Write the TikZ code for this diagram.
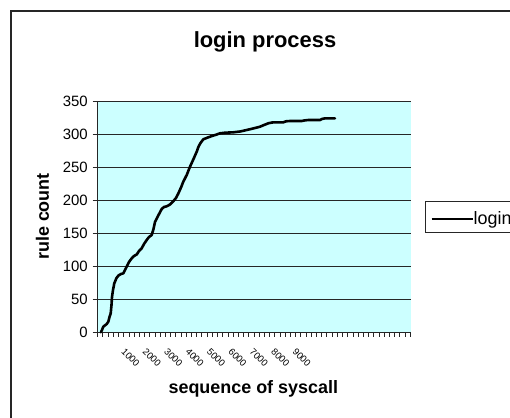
\documentclass[tikz,border=0pt]{standalone}
\usepackage{fontspec}
\setmainfont{Liberation Sans}
\definecolor{plotbg}{HTML}{CCFFFF}
\definecolor{gridc}{HTML}{262626}
\tikzset{
  titletext/.style={font=\fontsize{22}{26}\selectfont\bfseries, inner sep=0pt},
  axistitle/.style={font=\fontsize{18}{21}\selectfont\bfseries, inner sep=0pt},
  ylab/.style={font=\fontsize{15}{18}\selectfont, inner sep=0pt, anchor=east},
  xlab/.style={font=\fontsize{9.5}{11}\selectfont, inner sep=0pt, anchor=north west, rotate=-45},
  gridline/.style={draw=gridc, line width=1.1bp},
  dataline/.style={draw=black, line width=2.6bp, line join=round, line cap=round},
}
\begin{document}
\begin{tikzpicture}[x=1bp,y=-1bp]
\useasboundingbox (0,0) rectangle (510,417);
\clip (0,0) rectangle (510,417);
% outer chart frame
\draw[line width=1.6bp, draw=black!85] (11,11) rectangle (540,440);
% title
\node[titletext] (title) at (265,42) {login process};
% plot area
\fill[plotbg] (97.7,101.5) rectangle (411,332.3);
\foreach \v in {1,...,7}{
  \draw[gridline] (97.7,{332.3-\v*32.97}) -- (411,{332.3-\v*32.97});
}
% axes
\draw[gridline] (97.7,101.5) -- (97.7,332.3);
\draw[gridline] (97.7,332.3) -- (411,332.3);
% y ticks and labels
\foreach \v [count=\i from 0] in {0,50,...,350}{
  \draw[gridline] (92.5,{332.3-\i*32.97}) -- (97.7,{332.3-\i*32.97});
  \node[ylab] (y\i) at (88,{332.3-\i*32.97}) {\v};
}
% x ticks
\foreach \k in {0,...,60}{
  \draw[draw=gridc, line width=0.9bp] ({97.7+\k*5.21},332.3) -- ({97.7+\k*5.21},336.5);
}
\foreach \v [count=\i from 0] in {1000,2000,...,9000}{
  \node[xlab] (x\i) at ({125.5+\i*21.4},347.5) {\v};
}
% axis titles
\node[axistitle, rotate=90] (ytitle) at (42.5,216.5) {rule count};
\node[axistitle] (xtitle) at (253.3,389) {sequence of syscall};
% data line
\draw[dataline] (101,332.3) -- (103.3,326.7) -- (106.7,324) -- (108.3,321.7) -- (109.5,317) -- (110.7,313.3) -- (111.5,305) -- (112,297) -- (113,290) -- (114.3,283.3) -- (116.5,278) -- (118.5,275.5) -- (121,274) -- (123.3,273.3) -- (125,270) -- (126.7,266.5) -- (129,262) -- (131.7,258.3) -- (134,256) -- (136.7,254.5) -- (139,251) -- (141.7,248.3) -- (144,244) -- (146.7,240) -- (149,237) -- (151.7,235) -- (153.5,229) -- (155,222) -- (158,216) -- (161.7,209) -- (164,207) -- (166.7,206.3) -- (170,204.5) -- (173.3,201.2) -- (176,198) -- (178.3,193.5) -- (181,187.5) -- (183.3,181.7) -- (186.7,175) -- (190,166.7) -- (193.5,159) -- (196.7,151.7) -- (198.5,146.7) -- (200.5,143) -- (203.3,139.3) -- (205,138.6) -- (208.3,137.3) -- (212,136) -- (216.7,134.5) -- (220,133.3) -- (225,132.7) -- (233.3,132.3) -- (240,131.5) -- (246.7,130) -- (253,128.5) -- (260,126.7) -- (264,125) -- (268.3,123.3) -- (272,122.5) -- (275,122.3) -- (283.3,122.3) -- (286,121.3) -- (290,121) -- (301.7,121) -- (304,120.5) -- (308.3,120) -- (320,120) -- (322,119) -- (325,118.3) -- (335,118.3);
% legend
\draw[draw=black!85, line width=1.1bp] (425.7,201.7) rectangle (540,232.7);
\coordinate (legA) at (431.7,219);
\coordinate (legB) at (472.7,219);
\draw[dataline, line cap=butt] (legA) -- (legB);
\node[font=\fontsize{18}{21}\selectfont, inner sep=0pt, anchor=base west] (legtext) at (473.5,224.8) {login};
\end{tikzpicture}
\end{document}
